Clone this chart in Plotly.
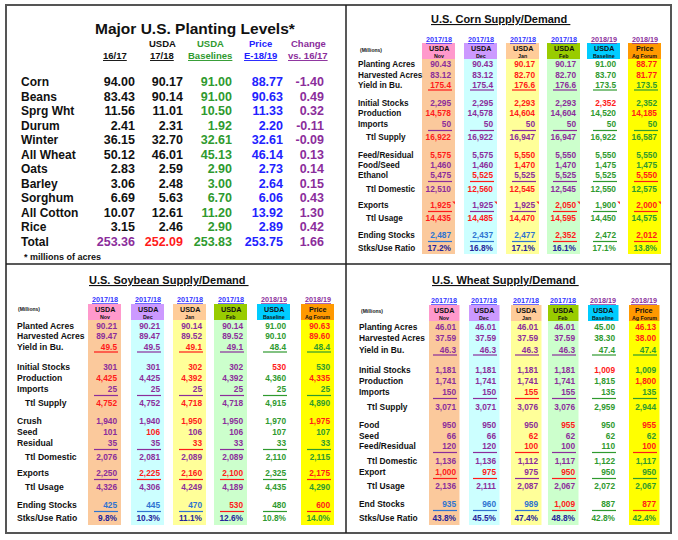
import plotly.graph_objects as go

# ----------------- data -----------------
# Major U.S. planting levels (millions of acres)
crops = ["Corn", "Beans", "Sprg Wht", "Durum", "Winter", "All Wheat", "Oats",
         "Barley", "Sorghum", "All Cotton", "Rice", "Total"]
acres_1617 = [94.00, 83.43, 11.56, 2.41, 36.15, 50.12, 2.83, 3.06, 6.69, 10.07, 3.15, 253.36]
acres_1718 = [90.17, 90.14, 11.01, 2.31, 32.70, 46.01, 2.59, 2.48, 5.63, 12.61, 2.46, 252.09]
acres_base = [91.00, 91.00, 10.50, 1.92, 32.61, 45.13, 2.90, 3.00, 6.70, 11.20, 2.90, 253.83]
acres_price = [88.77, 90.63, 11.33, 2.20, 32.61, 46.14, 2.73, 2.64, 6.06, 13.92, 2.89, 253.75]
acres_change = [-1.40, 0.49, 0.32, -0.11, -0.09, 0.13, 0.14, 0.15, 0.43, 1.30, 0.42, 1.66]

# supply/demand column headers (shared by the three tables)
sd_years = ["2017/18", "2017/18", "2017/18", "2017/18", "2018/19", "2018/19"]
sd_heads = ["USDA", "USDA", "USDA", "USDA", "USDA", "Price"]
sd_subs = ["Nov", "Dec", "Jan", "Feb", "Baseline", "Ag Forum"]

# corn
corn_labels = ["Planting Acres", "Harvested Acres", "Yield in Bu.", "Initial Stocks",
               "Production", "Imports", "Ttl Supply", "Feed/Residual", "Food/Seed",
               "Ethanol", "Ttl Domestic", "Exports", "Ttl Usage", "Ending Stocks",
               "Stks/Use Ratio"]
corn_nov = [90.43, 83.12, 175.4, 2295, 14578, 50, 16922, 5575, 1460, 5475, 12510, 1925, 14435, 2487, 17.2]
corn_dec = [90.43, 83.12, 175.4, 2295, 14578, 50, 16922, 5575, 1460, 5525, 12560, 1925, 14485, 2437, 16.8]
corn_jan = [90.17, 82.70, 176.6, 2293, 14604, 50, 16947, 5550, 1470, 5525, 12545, 1925, 14470, 2477, 17.1]
corn_feb = [90.17, 82.70, 176.6, 2293, 14604, 50, 16947, 5550, 1470, 5525, 12545, 2050, 14595, 2352, 16.1]
corn_base = [91.00, 83.70, 173.5, 2352, 14520, 50, 16922, 5550, 1475, 5525, 12550, 1900, 14450, 2472, 17.1]
corn_forum = [88.77, 81.77, 173.5, 2352, 14185, 50, 16587, 5550, 1475, 5550, 12575, 2000, 14575, 2012, 13.8]

# soybeans
soy_labels = ["Planted Acres", "Harvested Acres", "Yield in Bu.", "Initial Stocks",
              "Production", "Imports", "Ttl Supply", "Crush", "Seed", "Residual",
              "Ttl Domestic", "Exports", "Ttl Usage", "Ending Stocks", "Stks/Use Ratio"]
soy_nov = [90.21, 89.47, 49.5, 301, 4425, 25, 4752, 1940, 101, 35, 2076, 2250, 4326, 425, 9.8]
soy_dec = [90.21, 89.47, 49.5, 301, 4425, 25, 4752, 1940, 106, 35, 2081, 2225, 4306, 445, 10.3]
soy_jan = [90.14, 89.52, 49.1, 302, 4392, 25, 4718, 1950, 106, 33, 2089, 2160, 4249, 470, 11.1]
soy_feb = [90.14, 89.52, 49.1, 302, 4392, 25, 4718, 1950, 106, 33, 2089, 2100, 4189, 530, 12.6]
soy_base = [91.00, 90.10, 48.4, 530, 4360, 25, 4915, 1970, 107, 33, 2110, 2325, 4435, 480, 10.8]
soy_forum = [90.63, 89.60, 48.4, 530, 4335, 25, 4890, 1975, 107, 33, 2115, 2175, 4290, 600, 14.0]

# wheat
wheat_labels = ["Planting Acres", "Harvested Acres", "Yield in Bu.", "Initial Stocks",
                "Production", "Imports", "Ttl Supply", "Food", "Seed", "Feed/Residual",
                "Ttl Domestic", "Export", "Ttl Usage", "End Stocks", "Stks/Use Ratio"]
wheat_nov = [46.01, 37.59, 46.3, 1181, 1741, 150, 3071, 950, 66, 120, 1136, 1000, 2136, 935, 43.8]
wheat_dec = [46.01, 37.59, 46.3, 1181, 1741, 150, 3071, 950, 66, 120, 1136, 975, 2111, 960, 45.5]
wheat_jan = [46.01, 37.59, 46.3, 1181, 1741, 155, 3076, 950, 62, 100, 1112, 975, 2087, 989, 47.4]
wheat_feb = [46.01, 37.59, 46.3, 1181, 1741, 155, 3076, 955, 62, 100, 1117, 950, 2067, 1009, 48.8]
wheat_base = [45.00, 38.30, 47.4, 1009, 1815, 135, 2959, 950, 62, 110, 1122, 950, 2072, 887, 42.8]
wheat_forum = [46.13, 38.00, 47.4, 1009, 1800, 135, 2944, 955, 62, 100, 1117, 950, 2067, 877, 42.4]

# ----------------- styles -----------------
FONT = "Arial, Liberation Sans, sans-serif"
PUR, RED, GRN, BLU, NAV = "#8b2d9b", "#ff1a1a", "#2f9a2f", "#2e74d1", "#24249a"
PAL = {"P": PUR, "R": RED, "G": GRN, "B": BLU, "N": NAV}

# cell colours, one string per row, one letter per column
corn_cc = ["PPRPGR", "PPRPGR", "RPRPGG", "PPRPRG", "RPRPGR", "PPPPGG", "RPPPGG", "RPRPGG",
           "PPRPGG", "PRPPGR", "PRRPGG", "RPPRGR", "RRRRGG", "BBBRGR", "NNNNGG"]
soy_cc = ["PPPPGR", "PPPPGR", "RPRPGG", "PPRPRG", "RPRPGR", "PPPPGG", "RPRPGG", "PPRPGR",
          "PRPPGG", "PPRPGG", "PPPPGG", "PRRRGR", "PPPPGG", "BBBRGR", "NNNNGG"]
wheat_cc = ["PPPPGR", "PPPPGR", "PPPPGG", "PPPPRG", "PPPPGR", "PPRPGG", "PPPPGG", "PPPRGR",
            "PPRPGG", "PPRPGR", "PPPPGG", "RRPRGG", "PPPPGG", "BBBRGR", "NNNNGG"]

HEAD_FILL = ["#ff99cc", "#cc99ff", "#ffcc99", "#99cc00", "#00ccff", "#ff9900"]
COL_FILL = ["#fbc99c", "#ccffff", "#ffff99", "#ccffcc", None, "#ffff00"]
YEAR_COL = ["#3333ff"] * 4 + [PUR] * 2

fig = go.Figure()


def add_text(xs, ys, texts, colors, size, pos="middle left"):
    fig.add_trace(go.Scatter(
        x=xs, y=ys, text=texts, mode="text", textposition=pos,
        textfont=dict(family=FONT, size=size, color=colors, weight="bold"),
        hoverinfo="skip", cliponaxis=False, showlegend=False))


def note(x, y, text, size, color="#111", anchor="center"):
    fig.add_annotation(x=x, y=y, text=text, showarrow=False, xanchor=anchor,
                       yanchor="middle", font=dict(family=FONT, size=size, color=color,
                                                   weight="bold"))


def fmt(v, i, n):
    if i < 2:
        return f"{v:.2f}"
    if i == 2:
        return f"{v:.1f}"
    if i == n - 1:
        return f"{v:.1f}%"
    return f"{v:,.0f}"


# ----------------- planting levels table -----------------
tl_y = [83 + 14.5 * i for i in range(len(crops))]
tl_right = [135, 183, 232, 283, 324]
tl_head_x = [115, 162, 210, 260, 308]
tl_cols = [acres_1617, acres_1718, acres_base, acres_price, acres_change]
tl_color = ["#111111", "#111111", GRN, "#2222ff", PUR]
tl_total = [PUR, RED, GRN, "#2222ff", PUR]

note(195, 28, "Major U.S. Planting Levels*", 15.5)
for x, t1, t2, c in zip(tl_head_x, ["", "USDA", "USDA", "Price", "Change"],
                        ["16/17", "17/18", "Baselines", "E-18/19", "vs. 16/17"],
                        ["#111111", "#111111", GRN, "#2222ff", PUR]):
    if t1:
        note(x, 43, t1, 9.5, c)
    note(x, 55.5, f"<u>{t2}</u>", 9.5, c)

add_text([21] * len(crops), tl_y, crops, "#111111", 12, "middle right")
for j, vals in enumerate(tl_cols):
    cols = [tl_color[j]] * (len(vals) - 1) + [tl_total[j]]
    add_text([tl_right[j]] * len(vals), tl_y, [f"{v:.2f}" for v in vals], cols, 12.5)
note(22, 257, "* millions of acres", 9, anchor="left")

# ----------------- supply / demand tables -----------------
panels = [
    dict(title="U.S. Corn Supply/Demand", tx=500, ty=19, mx=358, my=50, year_y=39,
         box=(43, 59), bottom=254, lx=358, ix=366,
         right=[451, 493, 535, 576, 616, 657], bgl=29, bgr=4,
         rows=[65, 76, 86, 104, 114, 125, 138, 156, 166, 176, 190, 206, 219, 236, 249],
         labels=corn_labels, cc=corn_cc, ticks=True, lsize=8.2,
         cols=[corn_nov, corn_dec, corn_jan, corn_feb, corn_base, corn_forum]),
    dict(title="U.S. Soybean Supply/Demand", tx=169, ty=280, mx=16, my=309, year_y=299,
         box=(304, 320), bottom=525, lx=17, ix=25,
         right=[117, 160, 202, 243, 286, 330], bgl=29, bgr=4,
         rows=[327, 337, 348, 368, 379, 390, 404, 422, 433, 444, 458, 474, 488, 506, 519],
         labels=soy_labels, cc=soy_cc, ticks=False, lsize=8.6,
         cols=[soy_nov, soy_dec, soy_jan, soy_feb, soy_base, soy_forum]),
    dict(title="U.S. Wheat Supply/Demand", tx=505, ty=280, mx=359, my=311, year_y=300,
         box=(305, 321), bottom=525, lx=359, ix=367,
         right=[456, 496, 538, 575, 615, 656], bgl=27, bgr=3.5,
         rows=[328, 339, 351, 371, 382, 393, 408, 426, 437, 447, 462, 473, 487, 505, 519],
         labels=wheat_labels, cc=wheat_cc, ticks=False, lsize=8.4,
         cols=[wheat_nov, wheat_dec, wheat_jan, wheat_feb, wheat_base, wheat_forum]),
]

line_rows = {2: 4, 5: 5.5, 9: 5.5, 11: 5.5, 13: 5.5}  # row index -> underline offset
indent = {6, 10, 12}

for p in panels:
    n = len(p["labels"])
    note(p["tx"], p["ty"], f"<u>{p['title']} </u>", 11)
    note(p["mx"], p["my"], "(Millions)", 5, anchor="left")
    for j, r in enumerate(p["right"]):
        x0, x1 = r - p["bgl"], r + p["bgr"]
        xc = (x0 + x1) / 2
        fig.add_shape(type="rect", x0=x0, x1=x1, y0=p["box"][0], y1=p["box"][1],
                      fillcolor=HEAD_FILL[j], line_width=0, layer="below")
        if COL_FILL[j]:
            fig.add_shape(type="rect", x0=x0, x1=x1, y0=p["box"][1], y1=p["bottom"],
                          fillcolor=COL_FILL[j], line_width=0, layer="below")
        note(xc, p["year_y"], f"<u>{sd_years[j]}</u>", 7.2, YEAR_COL[j])
        note(xc, p["box"][0] + 5, sd_heads[j], 7.2)
        note(xc, p["box"][0] + 12.5, sd_subs[j], 5.3)

        vals = p["cols"][j]
        colors = [PAL[p["cc"][i][j]] for i in range(n)]
        add_text([r] * n, p["rows"], [fmt(v, i, n) for i, v in enumerate(vals)], colors, 8.3)
        for i, off in line_rows.items():
            fig.add_shape(type="line", x0=r - 23, x1=r + 1,
                          y0=p["rows"][i] + off, y1=p["rows"][i] + off,
                          line=dict(color=colors[i], width=1.2))
        if p["ticks"]:
            fig.add_trace(go.Scatter(x=[r + 3], y=[p["rows"][11] - 3.5], mode="markers",
                                     marker=dict(symbol="triangle-ne", size=3, color=RED),
                                     hoverinfo="skip", showlegend=False))

    lx = [p["ix"] if i in indent else p["lx"] for i in range(n)]
    add_text(lx, p["rows"], p["labels"], "#111111", p["lsize"], "middle right")

# ----------------- frame -----------------
fig.add_shape(type="rect", x0=6, x1=671, y0=5, y1=533, line=dict(color="#555555", width=2))
fig.add_shape(type="line", x0=346, x1=346, y0=5, y1=533, line=dict(color="#222222", width=1.5))
fig.add_shape(type="line", x0=6, x1=671, y0=264, y1=264, line=dict(color="#222222", width=1.5))

fig.update_layout(
    width=678, height=540,
    margin=dict(l=0, r=0, t=0, b=0),
    paper_bgcolor="white", plot_bgcolor="white",
    showlegend=False,
    xaxis=dict(range=[0, 678], visible=False, fixedrange=True),
    yaxis=dict(range=[540, 0], visible=False, fixedrange=True),
)

# page body has a default margin; drop it so the figure sits at the window corner
fig.write_html("out.html", config={"displayModeBar": False},
               post_script="document.body.style.margin = '0';")
